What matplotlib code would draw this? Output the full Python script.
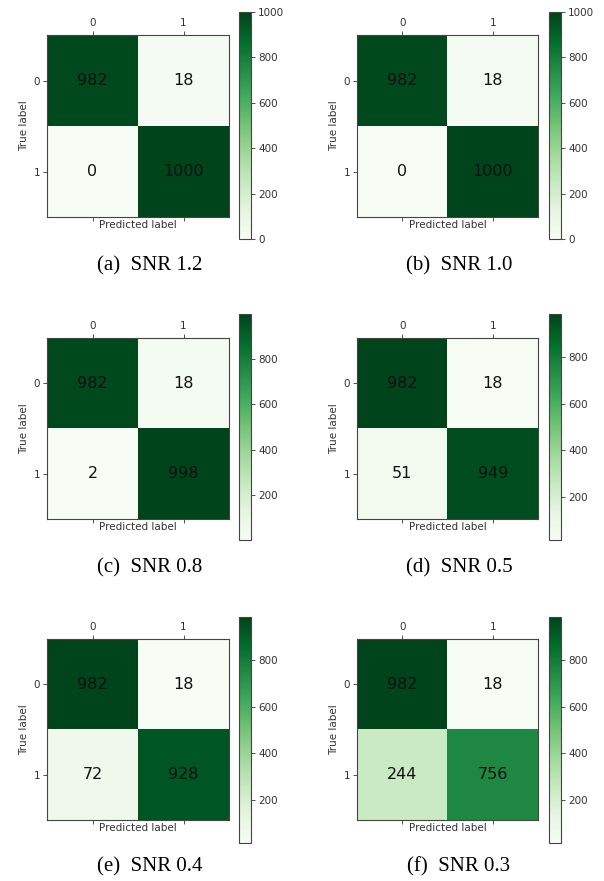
import matplotlib.pyplot as plt
import numpy as np

# confusion matrices (rows = true label, cols = predicted)
snr_levels = ["1.2", "1.0", "0.8", "0.5", "0.4", "0.3"]
panel_tags = ["(a)", "(b)", "(c)", "(d)", "(e)", "(f)"]
tn = [982, 982, 982, 982, 982, 982]
fp = [18, 18, 18, 18, 18, 18]
fn = [0, 0, 2, 51, 72, 244]
tp = [1000, 1000, 998, 949, 928, 756]
class_labels = ["0", "1"]

W, H = 604, 881
fig = plt.figure(figsize=(W / 100, H / 100), dpi=100)

# pixel boxes per column / row: image left, width, cbar left, width, caption x
col_x = [(47, 182, 239, 12, 150), (357, 181, 549, 12, 459)]
# image top, height, cbar top, height, caption y
row_y = [(35, 182, 12, 227, 266), (338, 181, 314, 226, 568), (639, 181, 617, 226, 867)]

tick_col = "#333333"

def px_box(x, y, w, h):
    return [x / W, 1 - (y + h) / H, w / W, h / H]

for i in range(6):
    r, c = divmod(i, 2)
    ix, iw, cx, cw, capx = col_x[c]
    iy, ih, cy, ch, capy = row_y[r]
    cm = np.array([[tn[i], fp[i]], [fn[i], tp[i]]])

    ax = fig.add_axes(px_box(ix, iy, iw, ih))
    im = ax.matshow(cm, cmap="Greens", aspect="auto")
    ax.set_xticks(range(2))
    ax.set_yticks(range(2))
    ax.set_xticklabels(class_labels)
    ax.set_yticklabels(class_labels)
    ax.tick_params(labelsize=7.5, colors=tick_col, length=3, width=0.6, pad=2)
    ax.xaxis.set_ticks_position("both")
    ax.tick_params(axis="x", labeltop=True, labelbottom=False)
    for sp in ax.spines.values():
        sp.set_color("#444444")
        sp.set_linewidth(0.8)
    ax.set_xlabel("Predicted label", fontsize=7.5, color=tick_col, labelpad=-1)
    ax.set_ylabel("True label", fontsize=7.5, color=tick_col, labelpad=3)

    for a in range(2):
        for b in range(2):
            ax.text(b, a, str(cm[a, b]), ha="center", va="center",
                    fontsize=11.5, color="#111111")

    cax = fig.add_axes(px_box(cx, cy, cw, ch))
    cb = fig.colorbar(im, cax=cax)
    cb.ax.tick_params(labelsize=7.5, colors=tick_col, length=3, width=0.6, pad=2)
    cb.outline.set_edgecolor("#444444")
    cb.outline.set_linewidth(0.8)

    fig.text(capx / W, 1 - capy / H, f"{panel_tags[i]}  SNR {snr_levels[i]}",
             ha="center", va="center", fontsize=15, family="Liberation Serif")

fig.savefig("out.png", dpi=100)
